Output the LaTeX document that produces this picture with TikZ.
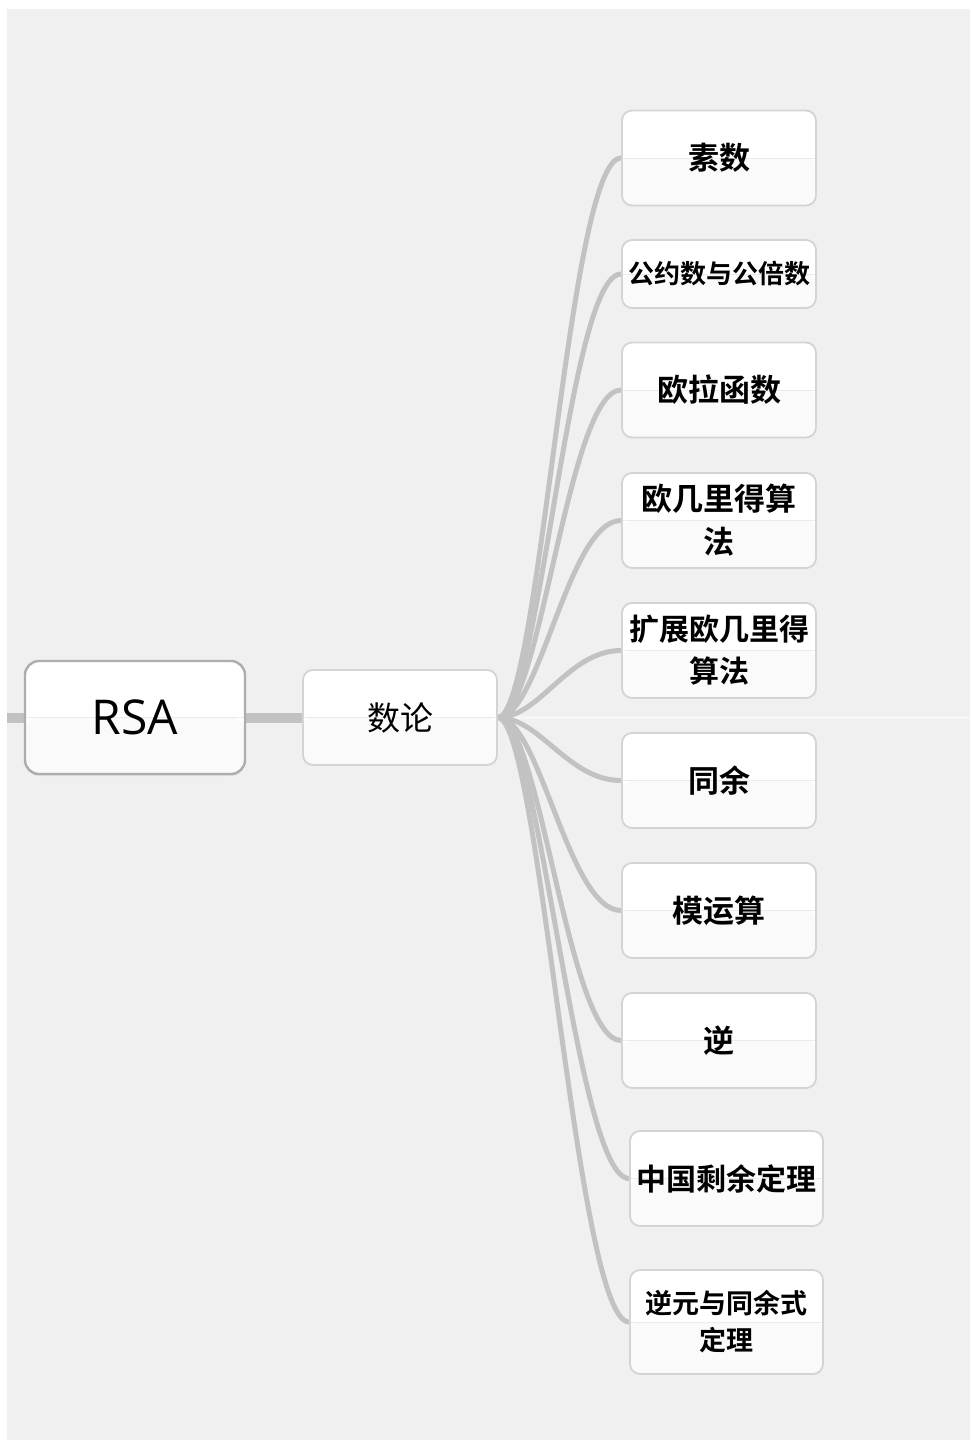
\documentclass[tikz,border=0pt]{standalone}
\usepackage{fontspec}
\setmainfont{Open Sans}
\newfontfamily\cjk{Noto Sans CJK SC}[BoldFont={Noto Sans CJK SC Bold}]
\usetikzlibrary{shadows}
\definecolor{bgc}{HTML}{F0F0F0}
\definecolor{boxedge}{HTML}{D4D4D4}
\definecolor{rsaedge}{HTML}{ADADAD}
\definecolor{boxlow}{HTML}{FAFAFA}
\definecolor{glossc}{HTML}{EBEBEB}
\definecolor{linkc}{HTML}{C2C2C2}
\definecolor{faint}{HTML}{F6F6F6}
\pgfdeclarelayer{back}
\pgfdeclarelayer{conn}
\pgfsetlayers{back,conn,main}
\tikzset{
  box/.style={draw=boxedge, line width=1.8pt, fill=white, rounded corners=10pt,
    minimum width=194pt, minimum height=95pt, inner sep=0pt, align=center, text=black,
    path picture={\fill[boxlow] (path picture bounding box.west) rectangle (path picture bounding box.south east);
      \draw[glossc, line width=1pt] (path picture bounding box.west) -- (path picture bounding box.east);}},
  kid/.style={box, font=\cjk\bfseries\fontsize{31}{43}\selectfont},
  link/.style={draw=linkc, line width=5pt, line cap=round},
  trunk/.style={draw=linkc, line width=10pt},
}
\begin{document}
\begin{tikzpicture}[x=1pt,y=-1pt]
\useasboundingbox (0,0) rectangle (970,1443);
\begin{pgfonlayer}{back}
  \fill[white] (0,0) rectangle (970,1443);
  \fill[bgc] (7,9) rectangle (970,1440);
  \draw[faint, line width=3pt] (7,717) -- (970,717);
\end{pgfonlayer}

\node[box, draw=rsaedge, line width=2.4pt, rounded corners=14pt, minimum width=220pt, minimum height=113pt,
  font=\fontsize{48}{56}\selectfont, drop shadow={opacity=0.12, shadow xshift=0pt, shadow yshift=-2pt}] (rsa) at (135,717.5) {RSA};
\node[box, font=\cjk\fontsize{33}{40}\selectfont] (shu) at (400,717.5) {数论};

\node[kid] (c1) at (719,158) {素数};
\node[kid, minimum height=68pt, font=\cjk\bfseries\fontsize{26}{34}\selectfont] (c2) at (719,274) {公约数与公倍数};
\node[kid] (c3) at (719,390) {欧拉函数};
\node[kid] (c4) at (719,520.5) {欧几里得算\\法};
\node[kid, font=\cjk\bfseries\fontsize{30}{42}\selectfont] (c5) at (719,650.5) {扩展欧几里得\\算法};
\node[kid] (c6) at (719,780.5) {同余};
\node[kid] (c7) at (719,910.5) {模运算};
\node[kid] (c8) at (719,1040.5) {逆};
\node[kid, minimum width=193pt, font=\cjk\bfseries\fontsize{30}{40}\selectfont] (c9) at (726.5,1178.5) {中国剩余定理};
\node[kid, minimum width=193pt, minimum height=104pt, font=\cjk\bfseries\fontsize{27}{37}\selectfont] (c10) at (726.5,1322) {逆元与同余式\\定理};

\coordinate (stub) at (7,717.5);
\begin{pgfonlayer}{conn}
  \draw[trunk] (stub) -- (rsa.west);
  \draw[trunk] (rsa.east) -- (shu.west);
  \foreach \c in {c1,c2,c3,c4,c5,c6,c7,c8,c9,c10}
    \draw[link] (shu.east) .. controls +(42,0) and +(-53,0) .. (\c.west);
\end{pgfonlayer}
\end{tikzpicture}
\end{document}
